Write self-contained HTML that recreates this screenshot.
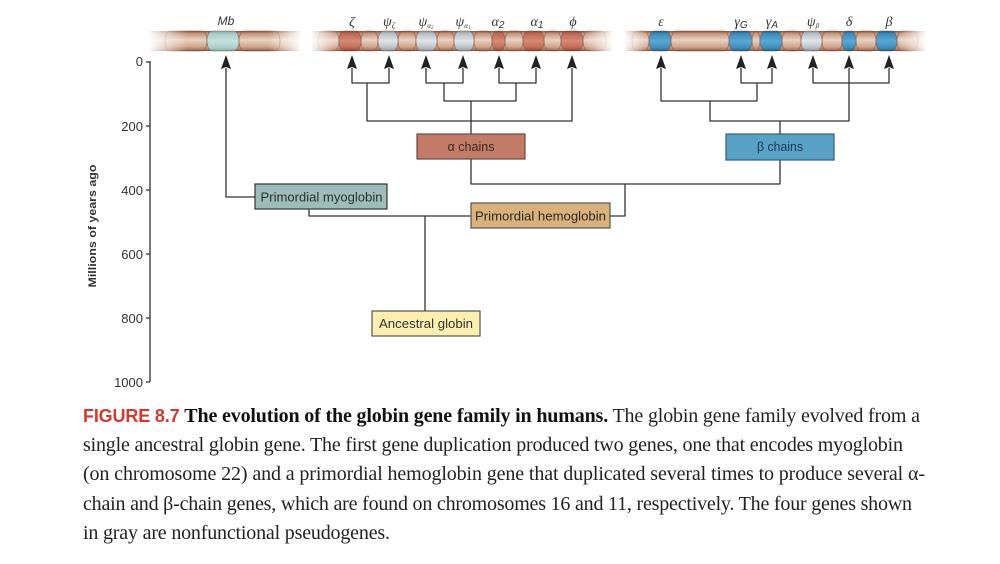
<!DOCTYPE html>
<html><head><meta charset="utf-8">
<style>
html,body{margin:0;padding:0;background:#fff;}
svg{display:block;}
</style></head>
<body>
<svg width="1000" height="564" viewBox="0 0 1000 564" xmlns="http://www.w3.org/2000/svg">
<defs>
<linearGradient id="tan" x1="0" y1="0" x2="0" y2="1">
<stop offset="0" stop-color="#84503c"/><stop offset="0.12" stop-color="#c3937a"/><stop offset="0.45" stop-color="#ead3c3"/><stop offset="0.78" stop-color="#d0a68d"/><stop offset="0.92" stop-color="#b27d66"/><stop offset="1" stop-color="#764532"/>
</linearGradient>
<linearGradient id="red" x1="0" y1="0" x2="0" y2="1">
<stop offset="0" stop-color="#8f4535"/><stop offset="0.15" stop-color="#bf6a55"/><stop offset="0.5" stop-color="#d68b77"/><stop offset="0.85" stop-color="#bd6a55"/><stop offset="1" stop-color="#7f3c2e"/>
</linearGradient>
<linearGradient id="gray" x1="0" y1="0" x2="0" y2="1">
<stop offset="0" stop-color="#8d949c"/><stop offset="0.15" stop-color="#b9c0c7"/><stop offset="0.5" stop-color="#e2e6ea"/><stop offset="0.85" stop-color="#b6bdc4"/><stop offset="1" stop-color="#838a92"/>
</linearGradient>
<linearGradient id="blue" x1="0" y1="0" x2="0" y2="1">
<stop offset="0" stop-color="#1f5f88"/><stop offset="0.15" stop-color="#3a8dbd"/><stop offset="0.5" stop-color="#5aa8d2"/><stop offset="0.85" stop-color="#3b8cba"/><stop offset="1" stop-color="#1d5a80"/>
</linearGradient>
<linearGradient id="teal" x1="0" y1="0" x2="0" y2="1">
<stop offset="0" stop-color="#7fa9a5"/><stop offset="0.15" stop-color="#aacfcb"/><stop offset="0.5" stop-color="#c6e2df"/><stop offset="0.85" stop-color="#a9cdc9"/><stop offset="1" stop-color="#7aa3a0"/>
</linearGradient>
<linearGradient id="fadeL" x1="0" y1="0" x2="1" y2="0">
<stop offset="0" stop-color="#fff" stop-opacity="1"/><stop offset="1" stop-color="#fff" stop-opacity="0"/>
</linearGradient>
<linearGradient id="fadeR" x1="0" y1="0" x2="1" y2="0">
<stop offset="0" stop-color="#fff" stop-opacity="0"/><stop offset="1" stop-color="#fff" stop-opacity="1"/>
</linearGradient>
</defs>

<!-- Chromosomes -->
<g stroke="#7a4a38" stroke-opacity="0.6" stroke-width="0.8">
<rect x="150" y="31" width="150" height="20" fill="url(#tan)" stroke="none"/>
<rect x="165" y="31" width="42" height="20" rx="5" ry="10" fill="url(#tan)"/>
<rect x="239" y="31" width="41" height="20" rx="5" ry="10" fill="url(#tan)"/>
<rect x="207" y="31" width="32" height="20" rx="5" ry="10" fill="url(#teal)"/>

<rect x="312" y="31" width="300" height="20" fill="url(#tan)" stroke="none"/>
<rect x="318" y="31" width="21" height="20" rx="5" ry="10" fill="url(#tan)"/>
<rect x="361" y="31" width="17" height="20" rx="5" ry="10" fill="url(#tan)"/>
<rect x="398" y="31" width="18" height="20" rx="5" ry="10" fill="url(#tan)"/>
<rect x="437" y="31" width="17" height="20" rx="5" ry="10" fill="url(#tan)"/>
<rect x="474" y="31" width="18" height="20" rx="5" ry="10" fill="url(#tan)"/>
<rect x="505" y="31" width="18" height="20" rx="5" ry="10" fill="url(#tan)"/>
<rect x="544" y="31" width="17" height="20" rx="5" ry="10" fill="url(#tan)"/>
<rect x="583" y="31" width="23" height="20" rx="5" ry="10" fill="url(#tan)"/>
<rect x="339" y="31" width="22" height="20" rx="5" ry="10" fill="url(#red)"/>
<rect x="378" y="31" width="20" height="20" rx="5" ry="10" fill="url(#gray)"/>
<rect x="416" y="31" width="21" height="20" rx="5" ry="10" fill="url(#gray)"/>
<rect x="454" y="31" width="20" height="20" rx="5" ry="10" fill="url(#gray)"/>
<rect x="492" y="31" width="13" height="20" rx="5" ry="10" fill="url(#red)"/>
<rect x="523" y="31" width="21" height="20" rx="5" ry="10" fill="url(#red)"/>
<rect x="561" y="31" width="22" height="20" rx="5" ry="10" fill="url(#red)"/>

<rect x="625" y="31" width="300" height="20" fill="url(#tan)" stroke="none"/>
<rect x="632" y="31" width="17" height="20" rx="5" ry="10" fill="url(#tan)"/>
<rect x="671" y="31" width="58" height="20" rx="5" ry="10" fill="url(#tan)"/>
<rect x="752" y="31" width="8" height="20" rx="4" ry="10" fill="url(#tan)"/>
<rect x="782" y="31" width="19" height="20" rx="5" ry="10" fill="url(#tan)"/>
<rect x="822" y="31" width="20" height="20" rx="5" ry="10" fill="url(#tan)"/>
<rect x="856" y="31" width="20" height="20" rx="5" ry="10" fill="url(#tan)"/>
<rect x="897" y="31" width="21" height="20" rx="5" ry="10" fill="url(#tan)"/>
<rect x="649" y="31" width="22" height="20" rx="5" ry="10" fill="url(#blue)"/>
<rect x="729" y="31" width="23" height="20" rx="5" ry="10" fill="url(#blue)"/>
<rect x="760" y="31" width="22" height="20" rx="5" ry="10" fill="url(#blue)"/>
<rect x="801" y="31" width="21" height="20" rx="5" ry="10" fill="url(#gray)"/>
<rect x="842" y="31" width="14" height="20" rx="5" ry="10" fill="url(#blue)"/>
<rect x="876" y="31" width="21" height="20" rx="5" ry="10" fill="url(#blue)"/>
</g>
<!-- fades -->
<rect x="148" y="29" width="40" height="24" fill="url(#fadeL)"/>
<rect x="268" y="29" width="34" height="24" fill="url(#fadeR)"/>
<rect x="310" y="29" width="30" height="24" fill="url(#fadeL)"/>
<rect x="584" y="29" width="30" height="24" fill="url(#fadeR)"/>
<rect x="623" y="29" width="26" height="24" fill="url(#fadeL)"/>
<rect x="898" y="29" width="29" height="24" fill="url(#fadeR)"/>

<!-- Gene labels -->
<g font-family="'Liberation Serif', serif" font-style="italic" font-size="14" fill="#333" text-anchor="middle">
<text x="226" y="25" font-family="'Liberation Sans', sans-serif" font-size="12">Mb</text>
<text x="352" y="26">ζ</text>
<text x="389" y="26">ψ<tspan font-size="8" dy="2">ζ</tspan></text>
<text x="426" y="26">ψ<tspan font-size="7" dy="2">α</tspan><tspan font-size="5" dy="1">2</tspan></text>
<text x="463" y="26">ψ<tspan font-size="7" dy="2">α</tspan><tspan font-size="5" dy="1">1</tspan></text>
<text x="498" y="26">α<tspan font-family="'Liberation Sans', sans-serif" font-size="10" dy="2">2</tspan></text>
<text x="537" y="26">α<tspan font-family="'Liberation Sans', sans-serif" font-size="10" dy="2">1</tspan></text>
<text x="573" y="26">ϕ</text>
<text x="661" y="26">ε</text>
<text x="741" y="26">γ<tspan font-family="'Liberation Sans', sans-serif" font-size="10" dy="2">G</tspan></text>
<text x="772" y="26">γ<tspan font-family="'Liberation Sans', sans-serif" font-size="10" dy="2">A</tspan></text>
<text x="813" y="26">ψ<tspan font-size="7" dy="2">β</tspan></text>
<text x="849" y="26">δ</text>
<text x="889" y="26">β</text>
</g>

<!-- Axis -->
<g stroke="#333" stroke-width="1.3" fill="none">
<path d="M150 61 V382"/>
<path d="M146 62 H150 M146 126 H150 M146 190 H150 M146 254 H150 M146 318 H150 M146 382 H150"/>
</g>
<g font-family="'Liberation Sans', sans-serif" font-size="13" fill="#333" text-anchor="end">
<text x="143" y="66">0</text>
<text x="143" y="131">200</text>
<text x="143" y="195">400</text>
<text x="143" y="259">600</text>
<text x="143" y="323">800</text>
<text x="143" y="387">1000</text>
</g>
<text transform="translate(96,226) rotate(-90)" font-family="'Liberation Sans', sans-serif" font-weight="bold" font-size="11" fill="#333" text-anchor="middle" textLength="123" lengthAdjust="spacingAndGlyphs">Millions of years ago</text>

<!-- Connectors -->
<g stroke="#333" stroke-width="1.3" fill="none" stroke-linejoin="round">
<path d="M352 68 V83 H389 V68"/>
<path d="M426 68 V83 H463 V68"/>
<path d="M499 68 V83 H536 V68"/>
<path d="M444 83 V101 H516 V83"/>
<path d="M367 83 V121 H572 V68"/>
<path d="M471 101 V134"/>
<path d="M471 159 V184 H780 V160"/>
<path d="M625 184 V216 H610"/>
<path d="M255 197 H226 V68"/>
<path d="M309 209 V216 H471"/>
<path d="M425 216 V311"/>
<path d="M741 68 V83 H772 V68"/>
<path d="M661 68 V101 H757 V83"/>
<path d="M813 68 V83 H889 V68"/>
<path d="M710 101 V121 H849 V68"/>
<path d="M780 121 V134"/>
</g>
<!-- Arrowheads -->
<g fill="#222">
<path d="M226 55 L231 69 L226 67 L221 69 Z"/>
<path d="M352 55 L357 69 L352 67 L347 69 Z"/>
<path d="M389 55 L394 69 L389 67 L384 69 Z"/>
<path d="M426 55 L431 69 L426 67 L421 69 Z"/>
<path d="M463 55 L468 69 L463 67 L458 69 Z"/>
<path d="M499 55 L504 69 L499 67 L494 69 Z"/>
<path d="M536 55 L541 69 L536 67 L531 69 Z"/>
<path d="M572 55 L577 69 L572 67 L567 69 Z"/>
<path d="M661 55 L666 69 L661 67 L656 69 Z"/>
<path d="M741 55 L746 69 L741 67 L736 69 Z"/>
<path d="M772 55 L777 69 L772 67 L767 69 Z"/>
<path d="M813 55 L818 69 L813 67 L808 69 Z"/>
<path d="M849 55 L854 69 L849 67 L844 69 Z"/>
<path d="M889 55 L894 69 L889 67 L884 69 Z"/>
</g>

<!-- Boxes -->
<g stroke-width="1.2" font-family="'Liberation Sans', sans-serif" font-size="13" text-anchor="middle">
<rect x="417" y="134" width="108" height="25" fill="#c27b67" stroke="#6b4a40"/>
<text x="471" y="151" fill="#3a2a25" stroke="none" textLength="47" lengthAdjust="spacingAndGlyphs">α chains</text>
<rect x="726" y="134" width="108" height="26" fill="#58a0c5" stroke="#2f5f7a"/>
<text x="780" y="151" fill="#1e3a4c" stroke="none" textLength="46" lengthAdjust="spacingAndGlyphs">β chains</text>
<rect x="255" y="184" width="132" height="25" fill="#9dbcba" stroke="#333"/>
<text x="321.5" y="201.5" fill="#263433" stroke="none" textLength="122" lengthAdjust="spacingAndGlyphs">Primordial myoglobin</text>
<rect x="471" y="203" width="139" height="25" fill="#d8b17d" stroke="#555"/>
<text x="540.5" y="220.5" fill="#332a1e" stroke="none" textLength="131" lengthAdjust="spacingAndGlyphs">Primordial hemoglobin</text>
<rect x="372" y="311" width="108" height="25" fill="#fcefb0" stroke="#555"/>
<text x="426" y="328" fill="#333" stroke="none" textLength="94" lengthAdjust="spacingAndGlyphs">Ancestral globin</text>
</g>

<!-- Caption -->
<g font-family="'Liberation Serif', serif" font-size="20" fill="#222">
<text x="83" y="422" textLength="837" lengthAdjust="spacing"><tspan font-family="'Liberation Sans', sans-serif" font-weight="bold" fill="#d23a2e" font-size="18">FIGURE 8.7</tspan> <tspan font-weight="bold" fill="#111">The evolution of the globin gene family in humans.</tspan> The globin gene family evolved from a</text>
<text x="83" y="451" textLength="820" lengthAdjust="spacing">single ancestral globin gene. The first gene duplication produced two genes, one that encodes myoglobin</text>
<text x="83" y="480" textLength="842" lengthAdjust="spacing">(on chromosome 22) and a primordial hemoglobin gene that duplicated several times to produce several α-</text>
<text x="83" y="510" textLength="829" lengthAdjust="spacing">chain and β-chain genes, which are found on chromosomes 16 and 11, respectively. The four genes shown</text>
<text x="83" y="539" textLength="307" lengthAdjust="spacing">in gray are nonfunctional pseudogenes.</text>
</g>
</svg>
</body></html>
